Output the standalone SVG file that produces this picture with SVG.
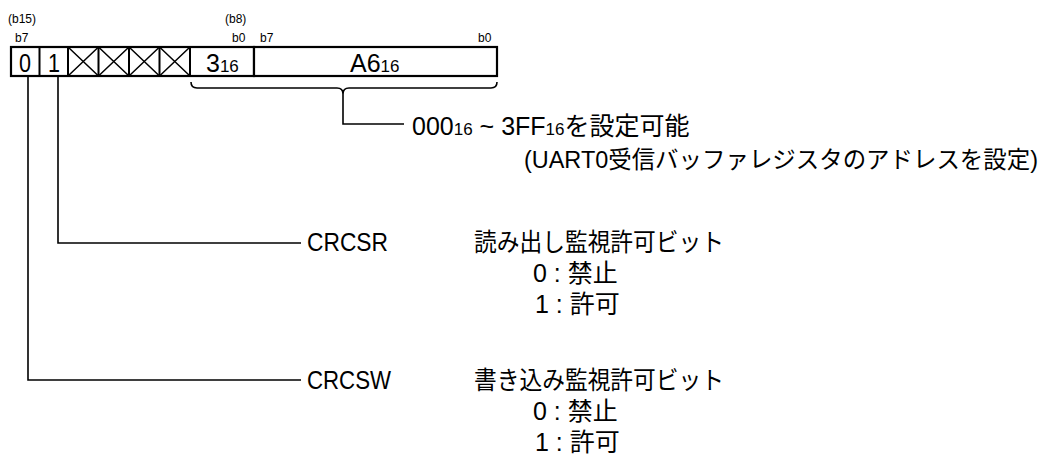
<svg xmlns="http://www.w3.org/2000/svg" width="1048" height="454" viewBox="0 0 1048 454">
<style>
.t{font-family:"Liberation Sans","Noto Sans CJK JP",sans-serif;fill:#000}
.s{font-size:12px}
.b{font-size:25px}
.m{font-size:25px}
.sub{font-size:17px}
.box{fill:#fff;stroke:#000;stroke-width:2.2}
.d{stroke:#000;stroke-width:2;fill:none}
.x{stroke:#000;stroke-width:1.5;fill:none}
.c{stroke:#000;stroke-width:1.6;fill:none}
</style>
<rect width="1048" height="454" fill="#fff"/>
<g id="labels">
<text class="t s" x="8" y="23">(b15)</text>
<text class="t s" x="15" y="42">b7</text>
<text class="t s" x="225" y="23">(b8)</text>
<text class="t s" x="232" y="42">b0</text>
<text class="t s" x="260" y="42">b7</text>
<text class="t s" x="478" y="42">b0</text>
</g>
<g id="register">
<rect class="box" x="11" y="47" width="243" height="29"/>
<rect class="box" x="254" y="47" width="243" height="29"/>
<path class="d" d="M39.5 47V76M68 47V76M98.5 47V76M129 47V76M159.5 47V76M190 47V76"/>
<path class="x" d="M68 47L98.5 76M98.5 47L68 76M98.5 47L129 76M129 47L98.5 76M129 47L159.5 76M159.5 47L129 76M159.5 47L190 76M190 47L159.5 76"/>
<text class="t b" x="25" y="72" text-anchor="middle" textLength="12" lengthAdjust="spacingAndGlyphs">0</text>
<text class="t b" x="54" y="72" text-anchor="middle" textLength="12" lengthAdjust="spacingAndGlyphs">1</text>
<text class="t b" x="206" y="72">3<tspan class="sub">16</tspan></text>
<text class="t b" x="350" y="72">A6<tspan class="sub">16</tspan></text>
</g>
<g id="connectors">
<path class="c" d="M191 82Q191 88 197 88L337 88Q343 88 343 94Q343 88 349 88L491 88Q497 88 497 82"/>
<path class="c" d="M343 94V124H404"/>
<path class="c" d="M58 77V243H301"/>
<path class="c" d="M28 77V380H301"/>
</g>
<g id="address">
<text class="t m" x="412" y="135">000<tspan class="sub">16</tspan> ~ 3FF<tspan class="sub">16</tspan>を設定可能</text>
<text class="t" font-size="23.5" x="524" y="168" textLength="514" lengthAdjust="spacingAndGlyphs">(UART0受信バッファレジスタのアドレスを設定)</text>
</g>
<g id="crcsr">
<text class="t m" x="307" y="251" textLength="81" lengthAdjust="spacingAndGlyphs">CRCSR</text>
<text class="t m" x="474" y="251" textLength="250" lengthAdjust="spacingAndGlyphs">読み出し監視許可ビット</text>
<text class="t m" x="533" y="282">0 : 禁止</text>
<text class="t m" x="535" y="313">1 : 許可</text>
</g>
<g id="crcsw">
<text class="t m" x="307" y="389" textLength="84" lengthAdjust="spacingAndGlyphs">CRCSW</text>
<text class="t m" x="474" y="389" textLength="250" lengthAdjust="spacingAndGlyphs">書き込み監視許可ビット</text>
<text class="t m" x="533" y="420">0 : 禁止</text>
<text class="t m" x="535" y="451">1 : 許可</text>
</g>
</svg>
